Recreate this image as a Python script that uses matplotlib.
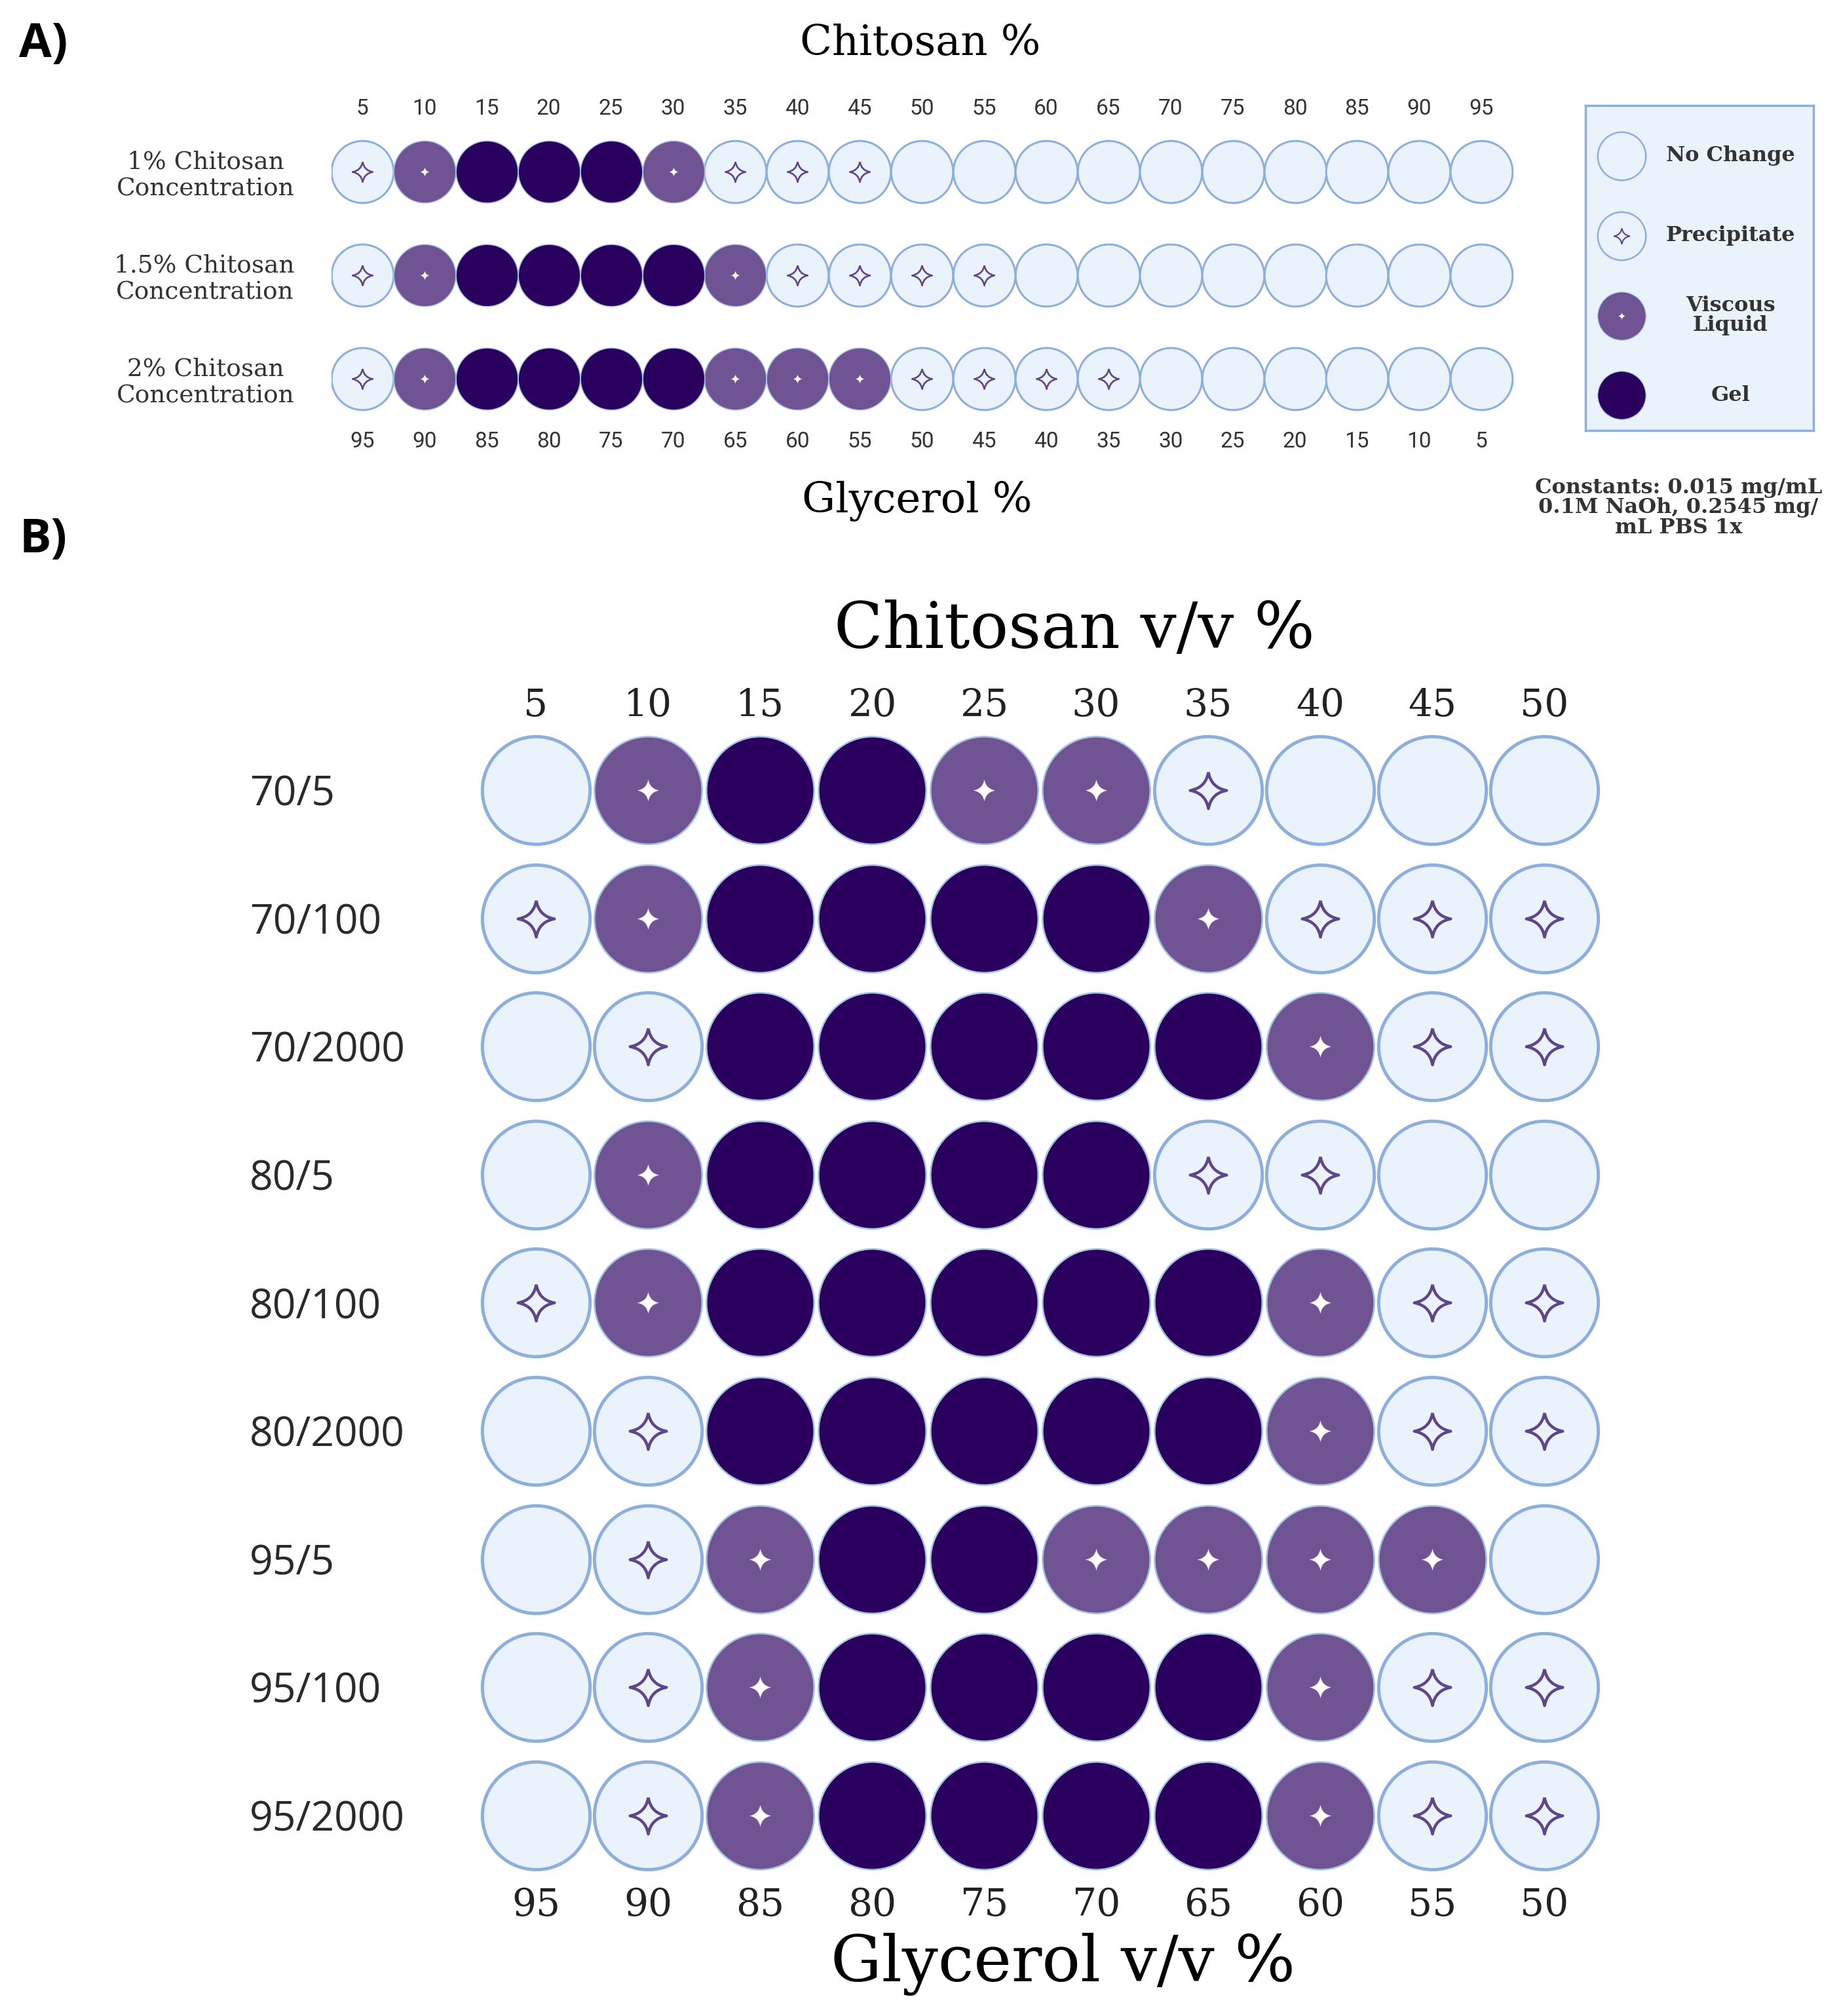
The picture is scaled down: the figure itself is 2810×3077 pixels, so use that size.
import numpy as np
import matplotlib
matplotlib.use("Agg")
import matplotlib.pyplot as plt
from matplotlib.path import Path

W, H = 2810, 3077
DPI = 100

# ---- data: panel A ----
chitosan_a = [5, 10, 15, 20, 25, 30, 35, 40, 45, 50, 55, 60, 65, 70, 75, 80, 85, 90, 95]
glycerol_a = [95, 90, 85, 80, 75, 70, 65, 60, 55, 50, 45, 40, 35, 30, 25, 20, 15, 10, 5]
rows_a = ["1% Chitosan\nConcentration", "1.5% Chitosan\nConcentration", "2% Chitosan\nConcentration"]
# N = no change, P = precipitate, V = viscous liquid, G = gel
states_a = [
    "PVGGGVPPPNNNNNNNNNN",
    "PVGGGGVPPPPNNNNNNNN",
    "PVGGGGVVVPPPPNNNNNN",
]

# ---- data: panel B ----
chitosan_b = [5, 10, 15, 20, 25, 30, 35, 40, 45, 50]
glycerol_b = [95, 90, 85, 80, 75, 70, 65, 60, 55, 50]
rows_b = ["70/5", "70/100", "70/2000", "80/5", "80/100", "80/2000", "95/5", "95/100", "95/2000"]
states_b = [
    "NVGGVVPNNN",
    "PVGGGGVPPP",
    "NPGGGGGVPP",
    "NVGGGGPPNN",
    "PVGGGGGVPP",
    "NPGGGGGVPP",
    "NPVGGVVVVN",
    "NPVGGGGVPP",
    "NPVGGGGVPP",
]

legend_codes = ["N", "P", "V", "G"]
legend_labels = ["No Change", "Precipitate", "Viscous\nLiquid", "Gel"]
constants_text = "Constants: 0.015 mg/mL\n0.1M NaOh, 0.2545 mg/\nmL PBS 1x"

# ---- style ----
LIGHT = "#EAF2FC"
EDGE = "#8EAEDB"
VISC = "#6F5392"
GEL = "#2A005E"
STAR = "#5F4589"
fill = {"N": LIGHT, "P": LIGHT, "V": VISC, "G": GEL}
SERIF = "DejaVu Serif"

c = 0.15
star = Path([(0, 1), (c, c), (1, 0), (c, -c), (0, -1), (-c, -c), (-1, 0), (-c, c), (0, 1)],
            [Path.MOVETO] + [Path.CURVE3] * 8)

fig = plt.figure(figsize=(W / DPI, H / DPI), dpi=DPI)


def px_axes(left, top, width, height):
    return fig.add_axes([left / W, 1 - (top + height) / H, width / W, height / H])


def draw_wells(ax, states, well_s, edge_lw, p_size, p_lw, v_size):
    grid = np.array([list(r) for r in states])
    for code in "NPVG":
        ys, xs = np.where(grid == code)
        if code in "NP":
            ec, lw = EDGE, edge_lw
        else:
            ec, lw = "#A8C2E6", edge_lw * 0.5
        ax.scatter(xs, ys, s=well_s, c=fill[code], edgecolors=ec, linewidths=lw, zorder=2)
    ys, xs = np.where(grid == "P")
    ax.scatter(xs, ys, s=p_size ** 2, marker=star, facecolors=LIGHT, edgecolors=STAR,
               linewidths=p_lw, zorder=3)
    ys, xs = np.where(grid == "V")
    ax.scatter(xs, ys, s=v_size ** 2, marker=star, c="white", linewidths=0, zorder=3)


def clean(ax):
    for s in ax.spines.values():
        s.set_visible(False)
    ax.set_facecolor("none")


# ---------------- panel A ----------------
stepA, rowA = 94.9, 158
axA = px_axes(553 - stepA / 2, 262 - rowA / 2, 19 * stepA, 3 * rowA)
draw_wells(axA, states_a, 4650, 2.2, 22, 1.9, 10)
axA.set_xlim(-0.5, 18.5)
axA.set_ylim(2.5, -0.5)
clean(axA)
axA.set_xticks(range(len(chitosan_a)))
axA.set_xticklabels(chitosan_a, fontsize=24, family="Roboto", color="#333333")
axA.xaxis.tick_top()
axA.tick_params(axis="x", length=0, pad=1)
secA = axA.secondary_xaxis("bottom")
secA.set_xticks(range(len(glycerol_a)), labels=glycerol_a, fontsize=24, family="Roboto", color="#333333")
secA.tick_params(length=0, pad=1)
for s in secA.spines.values():
    s.set_visible(False)
axA.set_yticks(range(len(rows_a)))
axA.set_yticklabels(rows_a, fontsize=27, family=SERIF, color="#333333")
axA.tick_params(axis="y", length=0, pad=40)
for t in axA.get_yticklabels():
    t.set_multialignment("center")
    t.set_linespacing(1.15)

fig.text(29 / W, 1 - 68 / H, "A)", fontsize=52, family="Open Sans", weight="bold", va="center")
fig.text(1405 / W, 1 - 66 / H, "Chitosan %", fontsize=46, family=SERIF, ha="center", va="center")
fig.text(1400 / W, 1 - 765 / H, "Glycerol %", fontsize=46, family=SERIF, ha="center", va="center")

# legend box
axL = px_axes(2420, 161, 348, 496)
axL.set_facecolor(LIGHT)
for s in axL.spines.values():
    s.set_color(EDGE)
    s.set_linewidth(2.5)
axL.set_xticks([])
axL.set_yticks([])
draw_wells(axL, [[code] for code in legend_codes], 2800, 1.8, 17, 1.5, 8)
axL.set_ylim(3.44, -0.63)
axL.set_xlim(-0.45, 2.4)
for i, lab in enumerate(legend_labels):
    axL.text(1.36, i, lab, fontsize=23, family=SERIF, weight="bold", color="#333333",
             ha="center", va="center", linespacing=0.95)

fig.text(2562 / W, 1 - 775 / H, constants_text, fontsize=23, family=SERIF, weight="bold",
         color="#333333", ha="center", va="center", linespacing=0.98)

# ---------------- panel B ----------------
stepB, rowB = 171, 195.6
axB = px_axes(818 - stepB / 2, 1206 - rowB / 2, 10 * stepB, 9 * rowB)
draw_wells(axB, states_b, 14000, 3.6, 40, 3.2, 24)
axB.set_xlim(-0.5, 9.5)
axB.set_ylim(8.5, -0.5)
clean(axB)
axB.set_xticks(range(len(chitosan_b)))
axB.set_xticklabels(chitosan_b, fontsize=42, family=SERIF, color="#222222")
axB.xaxis.tick_top()
axB.tick_params(axis="x", length=0, pad=2)
secB = axB.secondary_xaxis("bottom")
secB.set_xticks(range(len(glycerol_b)), labels=glycerol_b, fontsize=42, family=SERIF, color="#222222")
secB.tick_params(length=0, pad=8)
for s in secB.spines.values():
    s.set_visible(False)
axB.set_yticks(range(len(rows_b)))
axB.set_yticklabels(rows_b, fontsize=45, family="Open Sans", color="#2a2a2a", ha="left")
axB.tick_params(axis="y", length=0, pad=253)

fig.text(29 / W, 1 - 824 / H, "B)", fontsize=52, family="Open Sans", weight="bold", va="center")
fig.text(1640 / W, 1 - 962 / H, "Chitosan v/v %", fontsize=70, family=SERIF, ha="center", va="center")
fig.text(1623 / W, 1 - 2998 / H, "Glycerol v/v %", fontsize=70, family=SERIF, ha="center", va="center")

fig.savefig("out.png", dpi=DPI, facecolor="white")
